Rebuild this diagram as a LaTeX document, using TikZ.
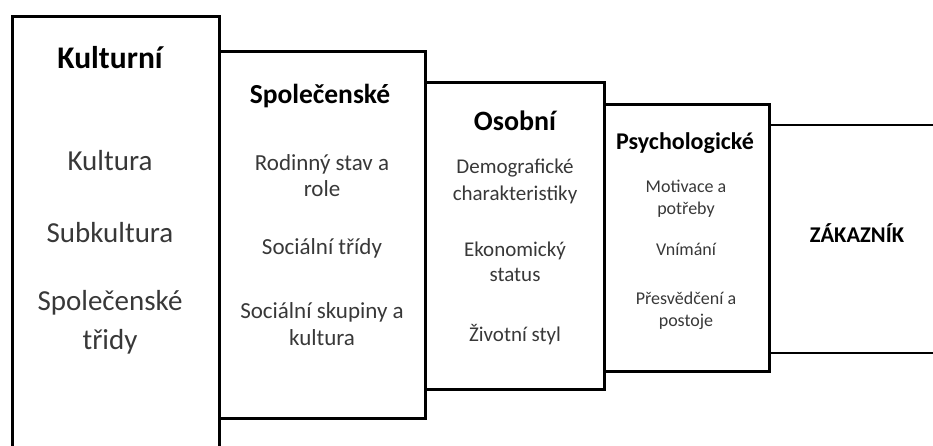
\documentclass[tikz,border=0pt]{standalone}
\usepackage{fontspec}
\setmainfont{Carlito}
\begin{document}
\begin{tikzpicture}[x=1pt,y=-1pt,
  frame/.style={line width=3pt, line join=miter},
  head/.style={font=\bfseries\fontsize{#1}{#1}\selectfont, text=black, inner sep=0pt},
  item/.style args={#1/#2}{font=\fontsize{#1}{#2}\selectfont, text=black!78, align=center, inner sep=0pt}]
\useasboundingbox (0,0) rectangle (933,445);
% boxes
\draw[frame] (12,460) -- (12,16) -- (219,16) -- (219,460);
\draw[frame] (219,51) -- (425,51) -- (425,418) -- (219,418);
\draw[frame] (425,82) -- (604,82) -- (604,389) -- (425,389) -- (425,418);
\draw[frame] (604,104) -- (769,104) -- (769,371) -- (604,371) -- (604,389);
\draw[frame, line width=2.5pt] (769,125) -- (940,125);
\draw[frame, line width=2.5pt] (769,353) -- (940,353);
% box 1
\node[head=31.5] (k1) at (110,58) {Kulturní};
\node[item=29/39] (k2) at (110,161) {Kultura};
\node[item=29/39] (k3) at (110,233) {Subkultura};
\node[item=29/39] (k4) at (110,322) {Společenské\\třidy};
% box 2
\node[head=27.5] (s1) at (320,96) {Společenské};
\node[item=23/26] (s2) at (322,176) {Rodinný stav a\\role};
\node[item=23/26] (s3) at (322,248) {Sociální třídy};
\node[item=23/27] (s4) at (322,324) {Sociální skupiny a\\kultura};
% box 3
\node[head=28] (o1) at (515,121) {Osobní};
\node[item=21/27] (o2) at (515,181) {Demografické\\charakteristiky};
\node[item=21/25] (o3) at (515,262) {Ekonomický\\status};
\node[item=21/25] (o4) at (515,335) {Životní styl};
% box 4
\node[head=24] (p1) at (685,143) {Psychologické};
\node[item=18/22] (p2) at (686,199) {Motivace a\\potřeby};
\node[item=18/22] (p3) at (686,249) {Vnímání};
\node[item=18/22] (p4) at (686,311) {Přesvědčení a\\postoje};
% box 5
\node[head=22.5] (z) at (857,233) {ZÁKAZNÍK};
\end{tikzpicture}
\end{document}
